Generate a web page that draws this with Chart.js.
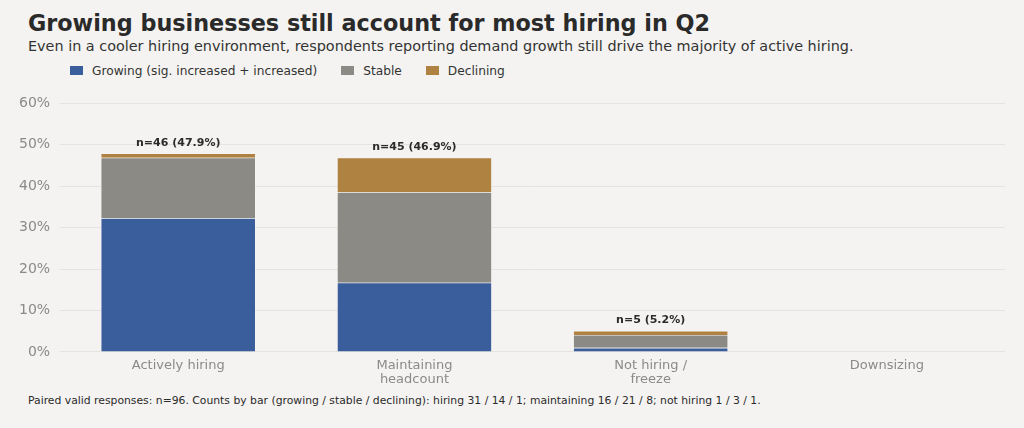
<!DOCTYPE html>
<html lang="en">
<head>
    <meta charset="UTF-8">
    <title>Hiring status by demand trend</title>
    <script src="https://cdn.jsdelivr.net/npm/chart.js"></script>
    <style>
        html, body {
            margin: 0;
            padding: 0;
            background: #f4f3f1;
            font-family: "DejaVu Sans", sans-serif;
            color: #2b2b2b;
        }
        .page {
            position: relative;
            width: 1024px;
            height: 428px;
            overflow: hidden;
        }
        h1 {
            position: absolute;
            left: 28px;
            top: 10px;
            margin: 0;
            font-size: 22.3px;
            font-weight: bold;
            color: #2a2a2a;
        }
        .subtitle {
            position: absolute;
            left: 28px;
            top: 38px;
            font-size: 14.4px;
            color: #333;
        }
        .legend {
            position: absolute;
            left: 70px;
            top: 64px;
            display: flex;
            gap: 24px;
            font-size: 12.2px;
            color: #333;
        }
        .legend span.box {
            display: inline-block;
            width: 13px;
            height: 9px;
            margin-right: 9px;
            vertical-align: 0px;
        }
        .chart-box {
            position: absolute;
            left: 0;
            top: 85px;
            width: 1024px;
            height: 305px;
        }
        .note {
            position: absolute;
            left: 28px;
            top: 394px;
            font-size: 10.8px;
            color: #2b2b2b;
        }
    </style>
</head>
<body>
<div class="page">
    <h1>Growing businesses still account for most hiring in Q2</h1>
    <div class="subtitle">Even in a cooler hiring environment, respondents reporting demand growth still drive the majority of active hiring.</div>
    <div class="legend" id="legend"></div>
    <div class="chart-box"><canvas id="hiringChart"></canvas></div>
    <div class="note">Paired valid responses: n=96. Counts by bar (growing / stable / declining): hiring 31 / 14 / 1; maintaining 16 / 21 / 8; not hiring 1 / 3 / 1.</div>
</div>

<script>
    // categories and values (% of paired responses)
    const categories = [['Actively hiring'], ['Maintaining', 'headcount'], ['Not hiring /', 'freeze'], ['Downsizing']];
    const growing   = [32.3, 16.7, 1.0, 0];
    const stable    = [14.6, 21.9, 3.1, 0];
    const declining = [1.0, 8.3, 1.0, 0];
    const barCounts = [46, 45, 5, 0];
    const barTotals = [47.9, 46.9, 5.2, 0];
    const yTicks = [0, 10, 20, 30, 40, 50, 60];

    const seriesNames = ['Growing (sig. increased + increased)', 'Stable', 'Declining'];
    const seriesColors = ['#3a5d9c', '#8c8a84', '#b08242'];

    // legend (html)
    const legendEl = document.getElementById('legend');
    seriesNames.forEach(function (name, i) {
        const item = document.createElement('div');
        item.innerHTML = '<span class="box" style="background:' + seriesColors[i] + '"></span>' + name;
        legendEl.appendChild(item);
    });

    // n labels above each stack
    const totalLabels = {
        id: 'totalLabels',
        afterDatasetsDraw(chart) {
            const ctx = chart.ctx;
            const y = chart.scales.y;
            const x = chart.scales.x;
            ctx.save();
            ctx.font = 'bold 11px "DejaVu Sans"';
            ctx.fillStyle = '#2b2b2b';
            ctx.textAlign = 'center';
            ctx.textBaseline = 'bottom';
            barCounts.forEach(function (n, i) {
                if (!n) return;
                ctx.fillText('n=' + n + ' (' + barTotals[i].toFixed(1) + '%)',
                    x.getPixelForValue(i), y.getPixelForValue(barTotals[i]) - 5);
            });
            ctx.restore();
        }
    };

    const ctx = document.getElementById('hiringChart').getContext('2d');
    new Chart(ctx, {
        type: 'bar',
        data: {
            labels: categories,
            datasets: [growing, stable, declining].map(function (vals, i) {
                return {
                    label: seriesNames[i],
                    data: vals,
                    backgroundColor: seriesColors[i],
                    borderColor: 'rgba(255,255,255,0.35)',
                    borderWidth: 0.6,
                    barPercentage: 0.655,
                    categoryPercentage: 1
                };
            })
        },
        options: {
            responsive: true,
            maintainAspectRatio: false,
            animation: false,
            layout: { padding: { left: 9, right: 19, top: 3, bottom: 4 } },
            plugins: {
                legend: { display: false },
                tooltip: { enabled: false }
            },
            scales: {
                x: {
                    stacked: true,
                    grid: { display: false },
                    border: { display: false },
                    ticks: {
                        color: '#8a8a8a',
                        font: { family: 'DejaVu Sans', size: 13, lineHeight: 1.08 },
                        padding: -1
                    }
                },
                y: {
                    stacked: true,
                    min: 0,
                    max: 60,
                    afterBuildTicks(axis) {
                        axis.ticks = yTicks.map(function (v) { return { value: v }; });
                    },
                    grid: { color: '#e5e3e0', lineWidth: 1, drawTicks: false },
                    border: { display: false },
                    ticks: {
                        color: '#8a8a8a',
                        font: { family: 'DejaVu Sans', size: 14 },
                        padding: 10,
                        callback: function (v) { return v + '%'; }
                    }
                }
            }
        },
        plugins: [totalLabels]
    });
</script>
</body>
</html>
